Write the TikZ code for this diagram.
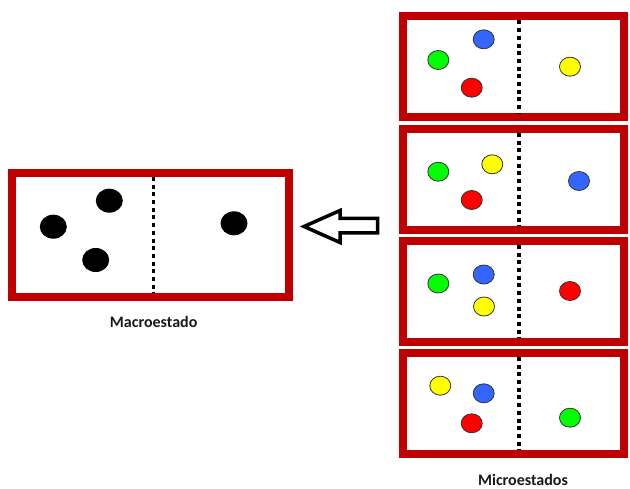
\documentclass[tikz,border=0pt]{standalone}
\usepackage{fontspec}
\setmainfont{Carlito}
\usetikzlibrary{shapes.geometric}
\definecolor{boxred}{HTML}{C00000}
\definecolor{ballblue}{HTML}{3366FF}
\definecolor{ballgreen}{HTML}{00FF00}
\definecolor{ballyellow}{HTML}{FFFF00}
\definecolor{ballred}{HTML}{FF0000}
\begin{document}
\begin{tikzpicture}[x=1pt,y=-1pt,
  chamber/.style={draw=boxred, line width=8pt, fill=white, rectangle,
    inner sep=0pt, outer sep=0pt},
  macrobox/.style={chamber, minimum width=277pt, minimum height=124.5pt},
  microbox/.style={chamber, minimum width=221pt, minimum height=101pt},
  divider/.style={line width=3.5pt, dash pattern=on 4pt off 3.7pt},
  particle/.style={ellipse, draw=black!80, line width=0.8pt, inner sep=0pt,
    minimum width=21pt, minimum height=19pt},
  blackparticle/.style={ellipse, fill=black, inner sep=0pt,
    minimum width=27pt, minimum height=24pt},
  caption/.style={font=\bfseries\fontsize{16}{18}\selectfont, text=black!90,
    anchor=base, inner sep=0pt}]
\useasboundingbox (0,0) rectangle (630,489);

% macrostate
\node[macrobox] (macro) at (150,235.25) {};
\draw[divider] ([xshift=3.3pt,yshift=-4pt]macro.north) -- ([xshift=3.3pt,yshift=4pt]macro.south);
\node[blackparticle] (k1) at (109.3,200.7) {};
\node[blackparticle] (k2) at (53.3,226.7) {};
\node[blackparticle] (k3) at (95.7,260) {};
\node[blackparticle] (k4) at (234,223.3) {};
\node[caption] (maclabel) at (153.7,327.7) {Macroestado};

% block arrow pointing to the macrostate
\draw[line width=3.5pt, fill=white, line join=miter]
  (304,226.5) -- (340,210.5) -- (340,218.5) -- (377.5,218.5) -- (377.5,233)
  -- (340,233) -- (340,242.5) -- cycle;

% microstates
\foreach \i/\y in {1/67,2/179.5,3/291.5,4/403.5}{
  \node[microbox] (m\i) at (513.5,\y) {};
  \draw[divider] ([xshift=5.5pt,yshift=-4pt]m\i.north) -- ([xshift=5.5pt,yshift=4pt]m\i.south);
}
% particles of microstate 1
\node[particle, fill=ballblue]   (a1) at (483.7,39.3) {};
\node[particle, fill=ballgreen]  (a2) at (438.3,60) {};
\node[particle, fill=ballred]    (a3) at (471.7,87.7) {};
\node[particle, fill=ballyellow] (a4) at (570,66.7) {};
% particles of microstate 2
\node[particle, fill=ballgreen]  (b1) at (438.3,171.7) {};
\node[particle, fill=ballyellow] (b2) at (492.3,164.3) {};
\node[particle, fill=ballred]    (b3) at (471.7,200) {};
\node[particle, fill=ballblue]   (b4) at (579,181) {};
% particles of microstate 3
\node[particle, fill=ballgreen]  (c1) at (438.3,283.5) {};
\node[particle, fill=ballblue]   (c2) at (483.7,274.5) {};
\node[particle, fill=ballyellow] (c3) at (484,306.5) {};
\node[particle, fill=ballred]    (c4) at (570,291) {};
% particles of microstate 4
\node[particle, fill=ballyellow] (d1) at (440.3,385.7) {};
\node[particle, fill=ballblue]   (d2) at (483.7,393.3) {};
\node[particle, fill=ballred]    (d3) at (471.7,423.3) {};
\node[particle, fill=ballgreen]  (d4) at (570,417.7) {};
\node[caption] (miclabel) at (523,485) {Microestados};
\end{tikzpicture}
\end{document}
